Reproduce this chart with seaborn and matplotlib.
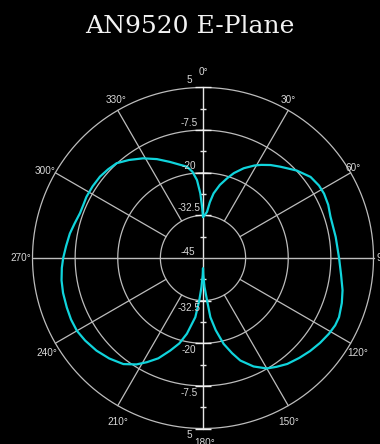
import numpy as np
import matplotlib
matplotlib.use("Agg")
import matplotlib.pyplot as plt
import seaborn as sns

# ---- data ----
angles_deg = [0, 2, 5, 7, 9.3, 13, 16.8, 20, 24.4, 29, 32, 36, 40.3, 47, 53, 58, 62, 67, 72, 81,
              90, 97, 103, 108, 113.5, 117, 121, 126, 131, 136, 141.5, 146, 150, 155, 160, 163,
              166.5, 170, 172.9, 174.6, 177, 179, 180, 181, 183, 185, 187.4, 192, 195.5, 199.5,
              204, 208.3, 212, 216.9, 223, 229, 235, 240, 245, 250, 256, 261, 266, 270, 275,
              280.4, 285, 290, 294, 297.7, 303, 308.3, 313, 317.7, 323, 329, 335, 341, 346, 350,
              353, 355.6, 357.6, 359, 360]
gain_db = [-33, -32.5, -31.4, -28.5, -25.8, -23, -20.6, -18.5, -16.1, -14, -12.8, -11.3, -9.9, -7.4,
           -5.5, -4.9, -4.8, -5.1, -5.7, -5.6,
           -5.1, -4.2, -3.0, -2.2, -1.5, -1.5, -1.9, -2.6, -3.4, -4.3, -5.3, -6.5, -7.6, -9.9, -13.0,
           -15.8, -19.1, -23.5, -27.5, -32.6, -36.5, -40, -42, -40, -36.5, -32.6, -27.5, -22.3,
           -19, -16.2, -12.8, -10.3, -8.2, -6.1, -4.7, -3.6, -2.8, -2.3, -2.3, -2.5, -2.7, -3.0,
           -3.5, -4.0, -4.7, -5.3, -6.0, -6.6, -6.6, -6.4, -6.4, -6.5, -6.9, -7.4, -9.0, -10.9,
           -13.0, -15.2, -16.8, -17.8, -19.5, -22.1, -26, -30, -33]

ring_levels = [-32.5, -20, -7.5, 5]
ring_labels = ["-32.5", "-20", "-7.5", "5"]
center_label = "-45"
angle_ticks = [0, 30, 60, 90, 120, 150, 180, 210, 240, 270, 300, 330]
angle_labels = [f"{a}°" for a in angle_ticks]
title = "AN9520 E-Plane"

R_MIN, R_MAX = -45, 5

# ---- figure ----
sns.set_style("dark")
plt.rcParams["font.family"] = ["Liberation Sans", "DejaVu Sans"]

W, H = 380, 444
fig = plt.figure(figsize=(W / 100, H / 100), dpi=100, facecolor="black")
cx, cy, rad = 203, 258, 170.5
ax = fig.add_axes([(cx - rad) / W, (H - cy - rad) / H, 2 * rad / W, 2 * rad / H],
                  projection="polar", facecolor="black")
ax.set_theta_zero_location("N")
ax.set_theta_direction(-1)
ax.set_rlim(R_MIN, R_MAX)
ax.grid(False)
ax.set_xticks([])
ax.set_yticks([])
ax.spines["polar"].set_visible(False)

grid_col = "#bdbdbd"
full = np.linspace(0, 2 * np.pi, 721)
for r in ring_levels:
    ax.plot(full, np.full_like(full, r), color=grid_col, lw=0.9, clip_on=False)
for a in angle_ticks:
    t = np.deg2rad(a)
    if a % 90 == 0:
        ax.plot([t, t], [R_MIN, R_MAX], color="#e6e6e6" if a % 180 == 0 else grid_col,
                lw=1.0, clip_on=False)
    else:
        ax.plot([t, t], [ring_levels[0], R_MAX], color=grid_col, lw=0.9, clip_on=False)

# small ticks on vertical axis
minor = [-38.75, -26.25, -13.75, -1.25]
for t in (0, np.pi):
    ax.plot([t] * len(minor), minor, ls="none", marker="_", ms=4.5, mew=1.0,
            color="#e6e6e6", clip_on=False)
    ax.plot([t] * len(ring_levels), ring_levels, ls="none", marker="_", ms=11, mew=1.0,
            color="#f0f0f0", clip_on=False)

# pattern
sns.lineplot(x=np.deg2rad(angles_deg), y=gain_db, sort=False, estimator=None, ax=ax,
             color="#10d4dc", lw=1.6)
ax.set_xlabel("")
ax.set_ylabel("")

lab_col = "#d8d8d8"
fs = 7.2
# radial labels
for r, lab in zip(ring_levels, ring_labels):
    ax.annotate(lab, xy=(0, r), xytext=(-14, 2), textcoords="offset pixels",
                ha="center", va="bottom", color=lab_col, fontsize=fs, annotation_clip=False)
    ax.annotate(lab, xy=(np.pi, r), xytext=(-14, -2), textcoords="offset pixels",
                ha="center", va="top", color=lab_col, fontsize=fs, annotation_clip=False)
ax.annotate(center_label, xy=(0, R_MIN), xytext=(-15, 1), textcoords="offset pixels",
            ha="center", va="bottom", color=lab_col, fontsize=fs, annotation_clip=False)

# angle labels (pixel offsets from the outer ring)
offsets = {0: (0, 15, "center"), 30: (0, 10, "center"), 60: (2, 5, "center"),
           90: (3, 0, "left"), 120: (7, -10, "center"), 150: (0, -16, "center"),
           180: (2, -15, "center"), 210: (0, -16, "center"), 240: (-8, -10, "center"),
           270: (-1, 0, "right"), 300: (-10, 2, "center"), 330: (-2, 10, "center")}
for a, lab in zip(angle_ticks, angle_labels):
    dx, dy, ha = offsets[a]
    ax.annotate(lab, xy=(np.deg2rad(a), R_MAX), xytext=(dx, dy), textcoords="offset pixels",
                ha=ha, va="center", color=lab_col, fontsize=fs, annotation_clip=False)

fig.text(0.5, 1 - 33 / H, title, ha="center", va="baseline", color="#f2f2f2",
         fontsize=18, family=["DejaVu Serif"])

fig.savefig("out.png", dpi=100, facecolor="black")
